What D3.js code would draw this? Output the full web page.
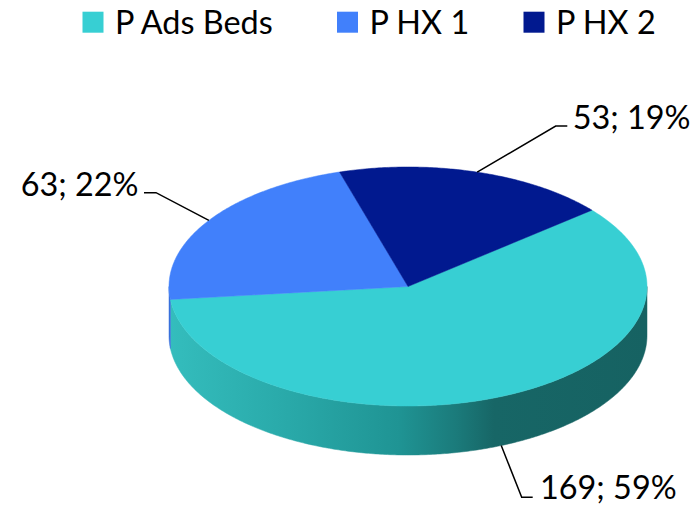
<!DOCTYPE html>
<html>
<head>
<meta charset="utf-8">
<script src="https://cdn.jsdelivr.net/npm/d3@7"></script>
<style>
  html, body { margin: 0; padding: 0; background: #fff; }
  svg { display: block; }
  text { font-family: Lato, "Open Sans", sans-serif; fill: #000; }
</style>
</head>
<body>
<script>
// ---- data ----
const categories = ["P Ads Beds", "P HX 1", "P HX 2"];
const values = [169, 63, 53];
const percentLabels = ["59%", "22%", "19%"];
const topColors = ["#37CFD3", "#4180FB", "#01198F"];

// ---- layout ----
const W = 696, H = 506;
const cx = 408, cy = 286.5, rx = 239, ry = 119.5, depth = 49;
const startDeg = 50.3;
const fontSize = 32.4;

const svg = d3.select("body").append("svg").attr("width", W).attr("height", H);
const defs = svg.append("defs");

// side gradients
const gAds = defs.append("linearGradient").attr("id", "sideAds")
  .attr("gradientUnits", "userSpaceOnUse")
  .attr("x1", cx - rx).attr("x2", cx + rx).attr("y1", 0).attr("y2", 0);
[[0, "#34bdbd"], [0.25, "#29a9a9"], [0.48, "#1f9494"], [0.6, "#1b7b7b"], [0.68, "#176666"], [1, "#166262"]]
  .forEach(([o, c]) => gAds.append("stop").attr("offset", o).attr("stop-color", c));
const sideColors = ["url(#sideAds)", "#3a70dc", "#00157a"];

const pie = d3.pie().sort(null).value(d => d)
  .startAngle(startDeg * Math.PI / 180)
  .endAngle(startDeg * Math.PI / 180 + 2 * Math.PI);
const arcs = pie(values);

const px = a => cx + rx * Math.sin(a);
const py = a => cy - ry * Math.cos(a);

function ellipsePts(a0, a1, dy) {
  const n = Math.max(2, Math.ceil(Math.abs(a1 - a0) / 0.01));
  return d3.range(n + 1).map(i => {
    const a = a0 + (a1 - a0) * i / n;
    return [px(a), py(a) + dy];
  });
}

const line = d3.line();

// side walls (front half: angles PI/2 .. 3PI/2, mod 2PI)
const sideG = svg.append("g");
arcs.forEach((d, i) => {
  [0, 2 * Math.PI].forEach(off => {
    const lo = Math.max(d.startAngle, Math.PI / 2 + off);
    const hi = Math.min(d.endAngle, 3 * Math.PI / 2 + off);
    if (hi > lo) {
      const top = ellipsePts(lo, hi, 0);
      const bot = ellipsePts(hi, lo, depth);
      sideG.append("path")
        .attr("d", line(top.concat(bot)) + "Z")
        .attr("fill", sideColors[i])
        .attr("stroke", sideColors[i]).attr("stroke-width", 0.5);
    }
  });
});

// top faces
const topG = svg.append("g");
arcs.forEach((d, i) => {
  const pts = [[cx, cy]].concat(ellipsePts(d.startAngle, d.endAngle, 0));
  topG.append("path")
    .attr("d", line(pts) + "Z")
    .attr("fill", topColors[i])
    .attr("stroke", topColors[i]).attr("stroke-width", 0.5)
    .attr("stroke-linejoin", "round");
});

// data labels with leader lines
const labelLayout = [
  { elbow: [521.7, 497.3], end: [532.7, 497.3], tx: 540, ty: 499.3, anchor: "start", onBottom: true },
  { elbow: [156, 192.7], end: [144, 192.7], tx: 138.5, ty: 195.7, anchor: "end", onBottom: false },
  { elbow: [555.7, 126], end: [567.3, 126], tx: 572.7, ty: 129.3, anchor: "start", onBottom: false }
];
const labG = svg.append("g");
arcs.forEach((d, i) => {
  const L = labelLayout[i];
  const mid = (d.startAngle + d.endAngle) / 2;
  const a = [px(mid), py(mid) + (L.onBottom ? depth : 0)];
  labG.append("path")
    .attr("d", line([a, L.elbow, L.end]))
    .attr("fill", "none").attr("stroke", "#000").attr("stroke-width", 1.5);
  labG.append("text")
    .attr("x", L.tx).attr("y", L.ty)
    .attr("text-anchor", L.anchor)
    .attr("font-size", fontSize)
    .text(values[i] + "; " + percentLabels[i]);
});

// legend
const legendX = [82.5, 337, 523.5];
const legG = svg.append("g");
categories.forEach((c, i) => {
  legG.append("rect")
    .attr("x", legendX[i]).attr("y", 11.7)
    .attr("width", 21).attr("height", 21)
    .attr("fill", topColors[i]);
  legG.append("text")
    .attr("x", legendX[i] + 32.5).attr("y", 34.3)
    .attr("font-size", fontSize)
    .text(c);
});
</script>
</body>
</html>
